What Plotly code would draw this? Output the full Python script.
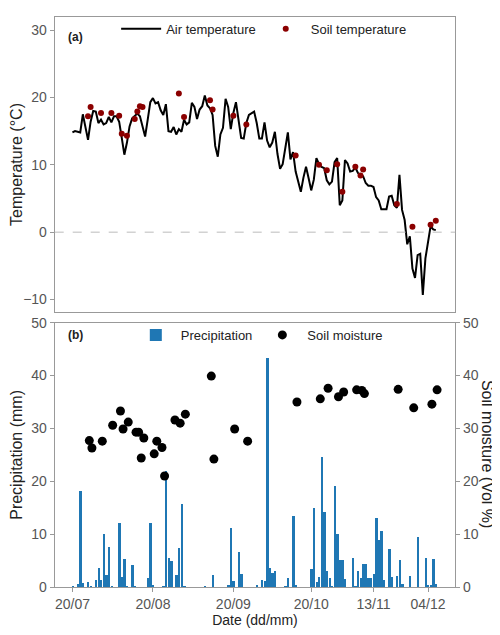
import pandas as pd
import plotly.graph_objects as go

start = pd.Timestamp("2019-07-20")

# daily air temperature (°C) from 20/07
air_temp = [14.8, 15.0, 14.9, 14.8, 17.5, 15.7, 13.7, 16.4, 18.0, 17.9,
            16.2, 16.7, 16.0, 16.2, 17.1, 16.3, 17.2, 17.2, 16.4, 14.0,
            11.5, 13.3, 15.7, 16.9, 17.2, 17.6, 17.2, 15.8, 14.2, 16.7,
            19.3, 19.9, 19.1, 19.3, 18.1, 17.4, 19.0, 15.0, 14.9, 15.6,
            14.5, 15.3, 14.9, 16.7, 16.0, 16.3, 19.2, 18.6, 16.8, 18.2,
            18.7, 20.3, 18.8, 18.4, 17.4, 12.8, 11.2, 14.5, 15.5, 19.8,
            18.6, 15.3, 17.7, 19.3, 16.4, 14.0, 13.9, 16.2, 17.4, 17.7,
            17.9, 16.2, 13.9, 13.9, 16.3, 13.6, 12.6, 13.3, 14.9, 11.6,
            9.4, 10.1, 12.4, 14.8, 10.8, 11.9, 9.0, 7.6, 6.0, 8.1,
            9.7, 8.0, 6.2, 7.8, 11.0, 10.1, 9.7, 9.5, 7.7, 7.1,
            7.5, 10.4, 11.0, 4.0, 4.7, 10.7, 10.2, 9.0, 9.1, 9.6,
            8.8, 8.4, 8.3, 7.3, 6.9, 6.9, 6.7, 5.2, 4.7, 3.4,
            3.4, 3.4, 5.3, 5.4, 4.0, 3.6, 8.5, 3.3, 1.8, -1.8,
            -0.6, -5.4, -6.8, -3.4, -3.2, -9.3, -3.9, -1.5, 0.9, 0.4,
            0.3]

soil_temp_day = [6, 7, 11, 15, 18, 19, 21, 24, 25, 26, 27, 41, 43, 53, 54, 62, 67,
                 86, 95, 98, 102, 104, 109, 111, 112, 125, 131, 138, 140]
soil_temp = [17.2, 18.6, 17.7, 17.7, 17.3, 14.6, 14.3, 16.8, 17.9, 18.7, 18.6, 20.6,
             17.1, 19.6, 18.2, 17.3, 16.0, 11.4, 10.0, 9.2, 10.1, 6.0, 9.7, 8.4, 9.3,
             4.2, 0.8, 1.1, 1.7]

moist_day = [6.5, 7.5, 11.5, 15.5, 18.5, 19.5, 21.5, 24.5, 25.5, 26.5, 27.5, 31.5,
             32.5, 34.5, 35.5, 39.5, 41.5, 43.5, 53.5, 54.5, 62.5, 67.5, 86.5, 95.5,
             98.5, 102.5, 104.5, 109.5, 111.5, 112.5, 125.5, 131.5, 138.5, 140.5]
moisture = [27.7, 26.3, 27.6, 30.6, 33.3, 29.9, 31.2, 29.3, 29.3, 24.4, 28.2, 25.2,
            27.6, 26.4, 21.0, 31.6, 31.0, 32.7, 39.9, 24.2, 29.9, 27.6, 35.0, 35.6,
            37.6, 36.0, 36.9, 37.3, 37.2, 36.6, 37.4, 33.9, 34.6, 37.3]

precip_day = [0, 2, 3, 4, 6, 7, 9, 10, 11, 12, 13, 14, 15, 18, 19, 20, 21, 23, 24,
              29, 30, 31, 35, 36, 37, 38, 40, 41, 42, 43, 51, 54, 60, 61, 62, 64, 65,
              71, 73, 74, 75, 76, 77, 78, 82, 83, 85, 86, 92, 93, 94, 95, 96, 97, 98,
              99, 100, 101, 102, 103, 104, 105, 108, 109, 110, 111, 112, 113, 114,
              115, 116, 117, 118, 119, 120, 122, 123, 125, 126, 127, 130, 133, 136,
              137, 138, 139, 140]
precip = [0.3, 0.6, 18.2, 0.8, 1.0, 0.2, 1.4, 3.7, 1.3, 10.0, 2.3, 7.7, 0.2, 12.1,
          2.0, 5.4, 0.2, 4.2, 0.2, 1.7, 12.1, 0.5, 0.2, 22.0, 5.6, 5.0, 2.4, 7.4,
          15.8, 0.2, 0.2, 2.3, 0.5, 11.2, 1.2, 6.7, 2.6, 0.5, 1.3, 1.2, 43.4, 3.7,
          2.7, 3.1, 0.2, 1.7, 13.4, 0.5, 3.4, 15.0, 1.0, 2.0, 24.7, 14.2, 3.1, 1.7,
          0.2, 19.2, 10.0, 5.1, 5.1, 1.5, 5.5, 0.3, 3.1, 1.7, 4.5, 4.4, 1.7, 1.7,
          2.5, 13.2, 8.9, 10.7, 1.3, 7.2, 1.9, 2.1, 5.2, 0.6, 2.1, 9.6, 5.6, 0.5,
          0.5, 5.4, 0.7]

tick_dates = ["2019-07-20", "2019-08-20", "2019-09-20", "2019-10-20", "2019-11-13", "2019-12-04"]
tick_text = ["20/07", "20/08", "20/09", "20/10", "13/11", "04/12"]


def to_dates(days):
    return [start + pd.Timedelta(days=d) for d in days]


air_dates = to_dates(range(len(air_temp)))

fig = go.Figure()
fig.add_trace(go.Scatter(x=air_dates, y=air_temp, mode="lines", name="Air temperature",
                         line=dict(color="black", width=2), xaxis="x", yaxis="y", legend="legend"))
fig.add_trace(go.Scatter(x=to_dates(soil_temp_day), y=soil_temp, mode="markers", name="Soil temperature",
                         marker=dict(color="#8b0000", size=6), xaxis="x", yaxis="y", legend="legend"))
fig.add_trace(go.Bar(x=to_dates(precip_day), y=precip, name="Precipitation",
                     marker=dict(color="#1f77b4", line=dict(width=0)), width=86400000 * 0.9,
                     xaxis="x2", yaxis="y2", legend="legend2"))
fig.add_trace(go.Scatter(x=to_dates(moist_day), y=moisture, mode="markers", name="Soil moisture",
                         marker=dict(color="black", size=9), xaxis="x2", yaxis="y3", legend="legend2"))

xrange = ["2019-07-13 04:00", "2019-12-14 12:00"]
frame = dict(showline=True, linecolor="#999999", linewidth=1, mirror=True, showgrid=False,
             zeroline=False, ticklen=4, tickcolor="#999999",
             tickfont=dict(size=14, color="#555555"))
legend_style = dict(orientation="h", xanchor="left", yanchor="middle", bgcolor="rgba(0,0,0,0)",
                    font=dict(size=13, color="#222222"), itemwidth=40)

# page body adds an 8px offset, so the figure is sized to fit the window
fig.update_layout(
    width=492, height=627, plot_bgcolor="white", paper_bgcolor="white",
    font=dict(family="Liberation Sans, Arial, sans-serif"),
    margin=dict(l=0, r=0, t=0, b=0), showlegend=True, bargap=0,
    xaxis=dict(domain=[0.0894, 0.9085], anchor="y", range=xrange, showticklabels=False,
               tickvals=tick_dates, ticks="", **frame),
    yaxis=dict(domain=[0.515, 0.999], anchor="x", range=[-11.9, 32], tickvals=[-10, 0, 10, 20, 30],
               ticks="outside",
               title=dict(text="Temperature (°C)", font=dict(size=16, color="#222222"), standoff=4), **frame),
    xaxis2=dict(domain=[0.0894, 0.9085], anchor="y2", range=xrange, tickvals=tick_dates, ticktext=tick_text,
                ticks="outside",
                title=dict(text="Date (dd/mm)", font=dict(size=14, color="#222222"), standoff=0), **frame),
    yaxis2=dict(domain=[0.0654, 0.498], anchor="x2", range=[0, 50], tickvals=[0, 10, 20, 30, 40, 50],
                ticks="outside",
                title=dict(text="Precipitation (mm)", font=dict(size=16, color="#222222"), standoff=4), **frame),
    yaxis3=dict(domain=[0.0654, 0.498], anchor="x2", overlaying="y2", side="right", range=[0, 50],
                tickvals=[0, 10, 20, 30, 40, 50], ticks="outside", **frame),
    legend=dict(x=0.215, y=0.979, **legend_style),
    legend2=dict(x=0.245, y=0.478, **legend_style),
    shapes=[dict(type="line", xref="x domain", yref="y", x0=0, x1=1, y0=0, y1=0,
                 line=dict(color="#bbbbbb", width=1, dash="dash"))],
    annotations=[
        dict(text="<b>(a)</b>", xref="paper", yref="paper", x=0.112, y=0.98, showarrow=False,
             font=dict(size=12, color="#222222"), xanchor="left"),
        dict(text="<b>(b)</b>", xref="paper", yref="paper", x=0.112, y=0.478, showarrow=False,
             font=dict(size=12, color="#222222"), xanchor="left"),
        dict(text="Soil moisture (Vol %)", xref="paper", yref="paper", x=0.975, y=0.282,
             xanchor="center", yanchor="middle", textangle=90, showarrow=False,
             font=dict(size=16, color="#222222")),
    ],
)

fig.write_html("out.html")
